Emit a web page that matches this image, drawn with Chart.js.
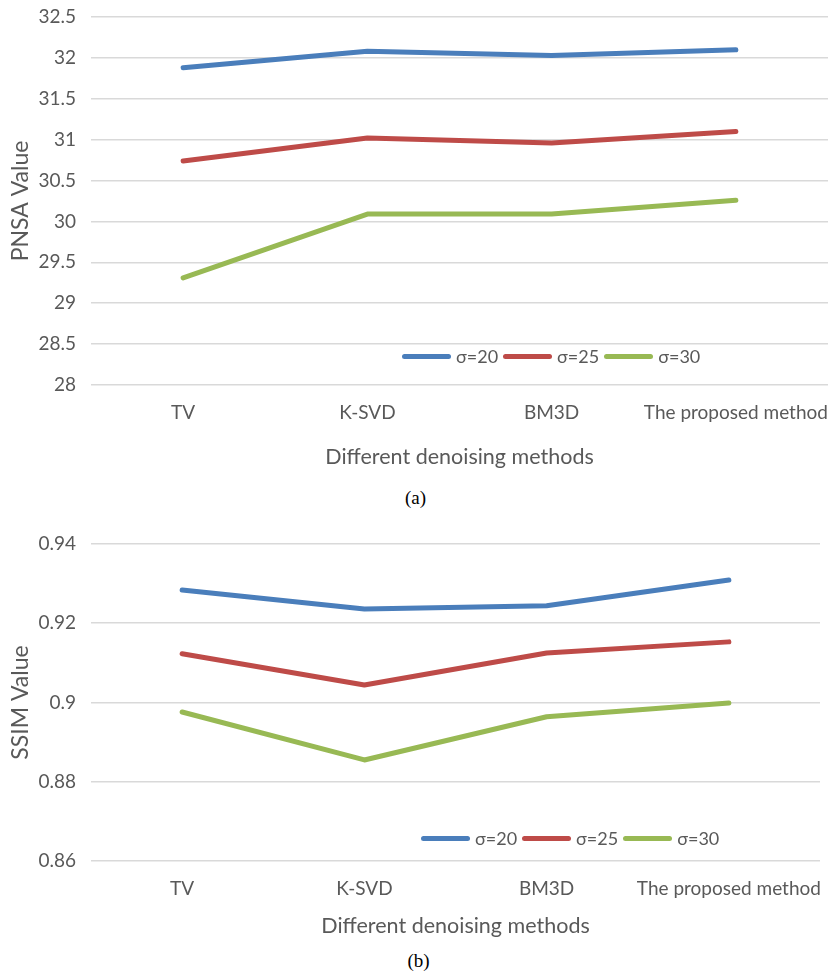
<!DOCTYPE html>
<html>
<head>
<meta charset="utf-8">
<script src="https://cdn.jsdelivr.net/npm/chart.js@4/dist/chart.umd.min.js"></script>
<style>
  body { margin: 0; background: #fff; width: 831px; height: 973px; position: relative; overflow: hidden; }
  .box { position: absolute; left: 0; width: 831px; }
  .legend { position: absolute; display: flex; align-items: center; font-family: Lato, sans-serif; font-size: 18px; color: #595959; white-space: nowrap; }
  .legend .sw { display: inline-block; width: 49px; height: 5px; border-radius: 3px; margin-right: 5px; }
  .legend .lb { margin-right: 5px; }
  .caption { position: absolute; left: 0; width: 831px; text-align: center; font-family: "Liberation Serif", serif; font-size: 19px; color: #000; }
</style>
</head>
<body>
<div class="box" id="boxA" style="top:0;height:480px"><canvas id="chartA"></canvas></div>
<div class="caption" style="top:487px;left:0px">(a)</div>
<div class="box" id="boxB" style="top:525px;height:425px"><canvas id="chartB"></canvas></div>
<div class="caption" style="top:950px;left:3px">(b)</div>

<script>
// categories + series
const methods = ['TV', 'K-SVD', 'BM3D', 'The proposed method'];
const seriesLabels = ['σ=20', 'σ=25', 'σ=30'];
const seriesColors = ['#4a7ebb', '#be4b48', '#98b954'];

// (a) PSNR
const psnr20 = [31.88, 32.08, 32.03, 32.10];
const psnr25 = [30.74, 31.02, 30.96, 31.10];
const psnr30 = [29.31, 30.09, 30.09, 30.26];

// (b) SSIM
const ssim20 = [0.9284, 0.9236, 0.9244, 0.9309];
const ssim25 = [0.9123, 0.9044, 0.9125, 0.9153];
const ssim30 = [0.8976, 0.8855, 0.8964, 0.8999];

const grey = '#595959';
const fontFam = 'Lato, sans-serif';

function makeChart(id, series, yTitle, yMin, yMax, yStep, opts) {
  const canvas = document.getElementById(id);
  return new Chart(canvas, {
    type: 'line',
    data: {
      labels: methods,
      datasets: series.map((vals, i) => ({
        label: seriesLabels[i],
        data: vals,
        borderColor: seriesColors[i],
        backgroundColor: seriesColors[i],
        borderWidth: 5,
        borderCapStyle: 'round',
        borderJoinStyle: 'round',
        pointRadius: 0,
        tension: 0
      }))
    },
    options: {
      responsive: true,
      maintainAspectRatio: false,
      animation: false,
      layout: { padding: { top: opts.top, right: opts.right, bottom: 0, left: 0 } },
      plugins: { legend: { display: false }, tooltip: { enabled: false } },
      scales: {
        x: {
          offset: true,
          // grid hidden, but tickLength still pushes the labels down
          grid: { display: false, drawTicks: true, tickLength: 14 },
          border: { display: false },
          ticks: { color: grey, font: { family: fontFam, size: 19 }, padding: 2,
                   maxRotation: 0, autoSkip: false },
          title: { display: true, text: 'Different denoising methods', color: grey,
                   font: { family: fontFam, size: 21.5 }, padding: { top: 0, bottom: opts.titlePad } },
          afterFit: s => { s.height = opts.xHeight; }
        },
        y: {
          min: yMin, max: yMax,
          // invisible tick marks keep the labels off the plot without padding the top
          grid: { color: '#d9d9d9', lineWidth: 1.5, drawTicks: true, tickLength: 12, tickColor: 'rgba(0,0,0,0)' },
          border: { display: false },
          ticks: {
            stepSize: yStep, color: grey, padding: 3,
            font: { family: fontFam, size: 19 },
            callback: v => String(Number(v.toFixed(2)))
          },
          title: { display: true, text: yTitle, color: grey,
                   font: { family: fontFam, size: 23 }, padding: { top: 7, bottom: 0 } },
          afterFit: s => { s.width = 91; }
        }
      }
    }
  });
}

// legend sits inside the plot, built from the same arrays
function addLegend(boxId, left, top) {
  const lg = document.createElement('div');
  lg.className = 'legend';
  lg.style.left = left + 'px';
  lg.style.top = top + 'px';
  seriesLabels.forEach((lab, i) => {
    const sw = document.createElement('span');
    sw.className = 'sw';
    sw.style.background = seriesColors[i];
    const t = document.createElement('span');
    t.className = 'lb';
    t.textContent = lab;
    lg.appendChild(sw);
    lg.appendChild(t);
  });
  document.getElementById(boxId).appendChild(lg);
}

makeChart('chartA', [psnr20, psnr25, psnr30], 'PNSA Value', 28, 32.5, 0.5,
  { top: 17, right: 3, xHeight: 95, titlePad: 10 });
makeChart('chartB', [ssim20, ssim25, ssim30], 'SSIM Value', 0.86, 0.94, 0.02,
  { top: 19, right: 11, xHeight: 89, titlePad: 11 });

addLegend('boxA', 402, 345);
addLegend('boxB', 421, 302);
</script>
</body>
</html>
